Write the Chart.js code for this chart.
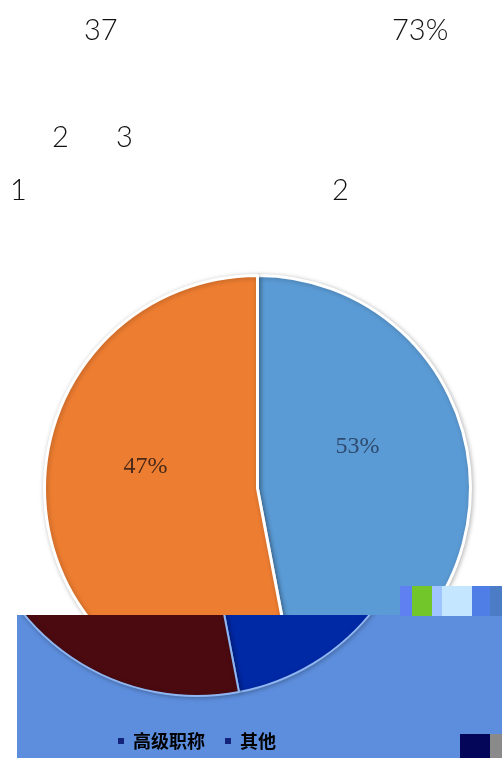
<!DOCTYPE html>
<html>
<head>
<meta charset="utf-8">
<script src="https://cdn.jsdelivr.net/npm/chart.js@4"></script>
<style>
    body { margin: 0; width: 502px; height: 758px; position: relative; overflow: hidden; background: #fff; }
    .num { position: absolute; font-family: Lato, "Open Sans", sans-serif; font-weight: 300; font-size: 29px; line-height: 1; color: #111; }
    #mainPie { position: absolute; left: 0; top: 0; }
    #scan { position: absolute; left: 17px; top: 615px; width: 485px; height: 143px; overflow: hidden; background: #5d8edd; }
    #scanPie { position: absolute; left: -45px; top: -383px; }
    .glitch { position: absolute; }
</style>
</head>
<body>
<canvas id="mainPie" width="502" height="758"></canvas>

<div class="num" style="left:84px;top:14px">37</div>
<div class="num" style="left:392px;top:14px">73%</div>
<div class="num" style="left:52px;top:121px">2</div>
<div class="num" style="left:116px;top:121px">3</div>
<div class="num" style="left:10px;top:174px">1</div>
<div class="num" style="left:332px;top:174px">2</div>

<div id="scan">
    <canvas id="scanPie" width="450" height="528"></canvas>
</div>

<!-- scan noise blocks -->
<div class="glitch" style="left:400px;top:586px;width:12px;height:30px;background:#5f80f0"></div>
<div class="glitch" style="left:412px;top:586px;width:20px;height:30px;background:#72c62a"></div>
<div class="glitch" style="left:432px;top:586px;width:10px;height:30px;background:#9fc4ff"></div>
<div class="glitch" style="left:442px;top:586px;width:30px;height:30px;background:#c4e6ff"></div>
<div class="glitch" style="left:472px;top:586px;width:18px;height:30px;background:#4f7fe6"></div>
<div class="glitch" style="left:490px;top:586px;width:12px;height:30px;background:#4c7cc6"></div>
<div class="glitch" style="left:460px;top:734px;width:30px;height:24px;background:#04065a"></div>
<div class="glitch" style="left:490px;top:734px;width:12px;height:24px;background:#8a8a8a"></div>

<script>
const categories = ["高级职称", "其他"];
// slice sizes as drawn in the picture (divider sits just right of 6 o'clock)
const shares = [47, 53];
// percentages as printed on the slices
const printedPct = ["53%", "47%"];

const mainColors = ["#5b9bd5", "#ed7d31"];
const mainLabelColors = ["#2e4a6e", "#4a2a18"];
const scanColors = ["#0029a6", "#4a0a10"];

// percent labels inside the slices
const pctLabels = {
    id: "pctLabels",
    afterDatasetsDraw(chart, args, opts) {
        if (!opts.show) return;
        const ctx = chart.ctx;
        chart.getDatasetMeta(0).data.forEach((arc, i) => {
            const p = arc.getProps(["x", "y", "startAngle", "endAngle", "outerRadius"]);
            const mid = (p.startAngle + p.endAngle) / 2;
            const r = p.outerRadius * opts.radius;
            ctx.save();
            ctx.font = "24px 'Liberation Serif', 'DejaVu Serif', serif";
            ctx.fillStyle = opts.colors[i];
            ctx.textAlign = "center";
            ctx.textBaseline = "middle";
            ctx.fillText(opts.texts[i], p.x + Math.cos(mid) * r - 6, p.y + Math.sin(mid) * r + opts.lift);
            ctx.restore();
        });
    },
};

// soft shadow under the pie
const pieShadow = {
    id: "pieShadow",
    beforeDatasetsDraw(chart) {
        const ctx = chart.ctx;
        ctx.save();
        ctx.shadowColor = "rgba(0,0,0,0.25)";
        ctx.shadowBlur = 5;
        ctx.shadowOffsetX = 1;
        ctx.shadowOffsetY = 1;
    },
    afterDatasetsDraw(chart) {
        chart.ctx.restore();
    },
};

new Chart(document.getElementById("mainPie").getContext("2d"), {
    type: "pie",
    data: {
        labels: categories,
        datasets: [
            {
                data: shares,
                backgroundColor: mainColors,
                borderColor: "#ffffff",
                borderWidth: 3,
            },
        ],
    },
    options: {
        responsive: false,
        animation: false,
        layout: {
            padding: { left: 43, right: 30, top: 274, bottom: 55 },
        },
        plugins: {
            legend: { display: false },
            tooltip: { enabled: false },
            pctLabels: { show: true, radius: 0.5, lift: -32, colors: mainLabelColors, texts: printedPct },
        },
    },
    plugins: [pieShadow, pctLabels],
});

new Chart(document.getElementById("scanPie").getContext("2d"), {
    type: "pie",
    data: {
        labels: categories,
        datasets: [
            {
                data: shares,
                backgroundColor: scanColors,
                borderColor: "#8fb6f2",
                borderWidth: 2,
            },
        ],
    },
    options: {
        responsive: false,
        animation: false,
        plugins: {
            legend: {
                position: "bottom",
                labels: {
                    boxWidth: 6,
                    boxHeight: 6,
                    padding: 20,
                    color: "#1a2a6a",
                    font: { family: "'Noto Sans CJK SC', sans-serif", size: 18, weight: "bold" },
                    generateLabels: function (chart) {
                        return chart.data.labels.map(function (label, i) {
                            return {
                                text: label,
                                fillStyle: "#13247a",
                                strokeStyle: "#13247a",
                                lineWidth: 0,
                                hidden: false,
                                index: i,
                            };
                        });
                    },
                },
            },
            tooltip: { enabled: false },
            pctLabels: { show: false },
        },
    },
    plugins: [pieShadow, pctLabels],
});
</script>
</body>
</html>
